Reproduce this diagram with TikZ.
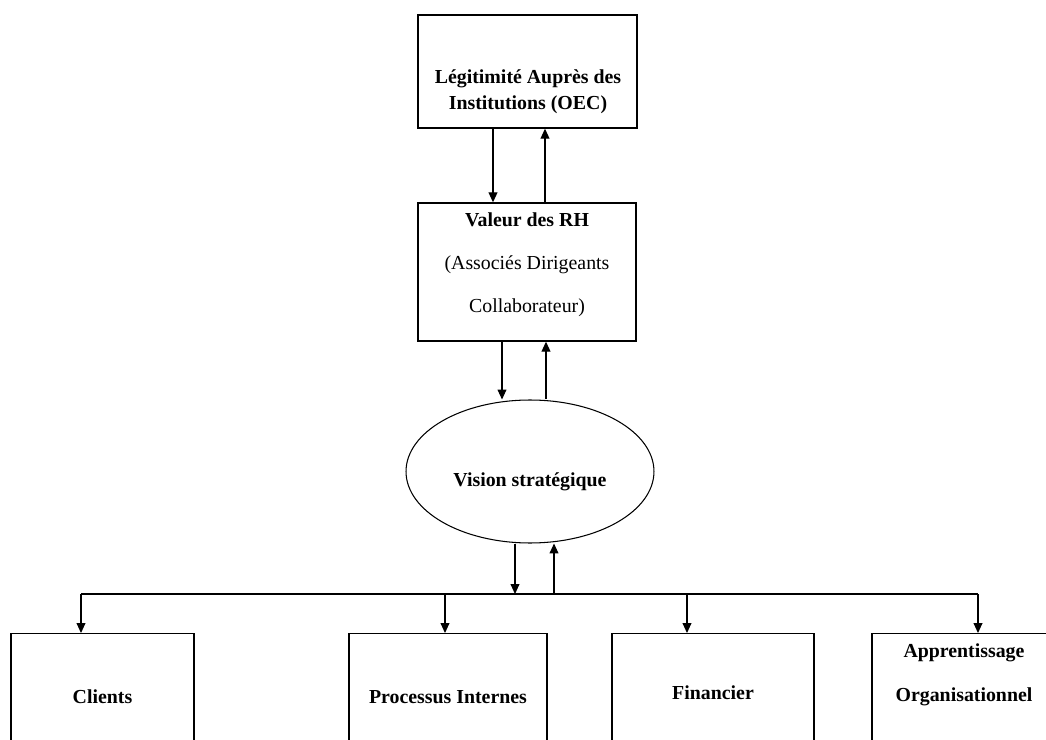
\documentclass[tikz,border=0pt]{standalone}
\usepackage{fontspec}
\setmainfont{Liberation Serif}
\usetikzlibrary{shapes.geometric,arrows.meta}

\tikzset{
  box/.style={draw, line width=0.8pt, inner sep=0pt},
  lowbox/.style={box, anchor=north, minimum height=3.2cm},
  vis/.style={draw, ellipse, line width=0.6pt, inner sep=0pt, minimum width=4.96cm, minimum height=2.86cm},
  lbl/.style={align=center, font=\fontsize{11.3}{14.8}\selectfont\bfseries},
  arr/.style={-{Triangle[length=5.6pt,width=5pt]}, line width=0.6pt},
  bus/.style={line width=0.7pt}
}

\begin{document}
\begin{tikzpicture}[x=0.02cm,y=-0.02cm]
\useasboundingbox (0,0) rectangle (1046,740);
\clip (0,0) rectangle (1046,740);

% boxes
\node[box, minimum width=4.38cm, minimum height=2.26cm] (oec) at (527.5,71.5) {};
\node[box, minimum width=4.36cm, minimum height=2.76cm] (rh) at (527,272) {};
\node[vis] (vision) at (530,471.5) {};
\node[lowbox, minimum width=3.66cm] (clients) at (102.5,633) {};
\node[lowbox, minimum width=3.96cm] (proc) at (448,633) {};
\node[lowbox, minimum width=4.04cm] (fin) at (713,633) {};
\node[lowbox, minimum width=3.68cm] (appr) at (964,633) {};

% texts
\node[lbl] (toec) at (528,92) {Légitimité Auprès des\\Institutions (OEC)};
\node[lbl, font=\fontsize{11.3}{24.4}\selectfont] (trh) at (527,265)
  {\textbf{Valeur des RH}\\\mdseries(Associés Dirigeants\\\mdseries Collaborateur)};
\node[lbl] (tvis) at (530,482) {Vision stratégique};
\node[lbl] (tclients) at (102.5,697) {Clients};
\node[lbl] (tproc) at (448,697) {Processus Internes};
\node[lbl] (tfin) at (713,693) {Financier};
\node[lbl, font=\fontsize{11.3}{25}\selectfont\bfseries] (tappr) at (964,675) {Apprentissage\\Organisationnel};

% arrow columns
\coordinate (c1) at (493,0);
\coordinate (c2) at (545,0);
\coordinate (c3) at (502,0);
\coordinate (c4) at (546,0);
\coordinate (c5) at (515,0);
\coordinate (c6) at (554,0);
\coordinate (busl) at (81,594);
\coordinate (busr) at (978,594);
\coordinate (dproc) at (445,594);
\coordinate (dfin) at (687,594);

\draw[arr] (oec.south -| c1) -- (rh.north -| c1);
\draw[arr] (rh.north -| c2) -- (oec.south -| c2);
\draw[arr] (rh.south -| c3) -- (vision.north -| c3);
\draw[arr] (vision.north -| c4) -- (rh.south -| c4);
\draw[arr] (vision.south -| c5) -- (busl -| c5);
\draw[arr] (busl -| c6) -- (vision.south -| c6);

% distribution line
\draw[bus] (busl) -- (busr);
\draw[arr] (busl) -- (clients.north -| busl);
\draw[arr] (dproc) -- (proc.north -| dproc);
\draw[arr] (dfin) -- (fin.north -| dfin);
\draw[arr] (busr) -- (appr.north -| busr);
\end{tikzpicture}
\end{document}
